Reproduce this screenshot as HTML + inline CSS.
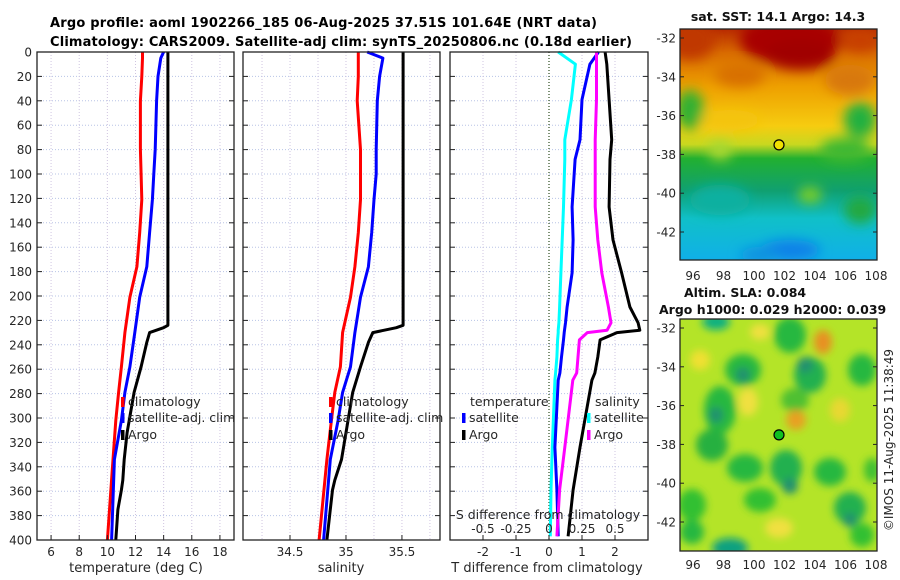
<!DOCTYPE html>
<html><head><meta charset="utf-8">
<style>
html,body{margin:0;padding:0;background:#fff;}
svg{display:block;font-family:"DejaVu Sans","Liberation Sans",sans-serif;}
</style></head>
<body>
<svg id="fig" width="900" height="580" viewBox="0 0 900 580" xmlns="http://www.w3.org/2000/svg">
<defs>
<filter id="blur1" x="-20%" y="-20%" width="140%" height="140%"><feGaussianBlur stdDeviation="6"/></filter>
<filter id="blur2" x="-20%" y="-20%" width="140%" height="140%"><feGaussianBlur stdDeviation="4"/></filter>
<clipPath id="clipM1"><rect x="680" y="29" width="197" height="231"/></clipPath>
<clipPath id="clipM2"><rect x="680" y="319" width="197" height="232"/></clipPath>
<linearGradient id="sstGrad" x1="0" y1="0" x2="0" y2="1">
<stop offset="0" stop-color="#b82a00"/><stop offset="0.1" stop-color="#d86a00"/>
<stop offset="0.25" stop-color="#eea000"/><stop offset="0.42" stop-color="#f6cc10"/>
<stop offset="0.5" stop-color="#c8d820"/><stop offset="0.56" stop-color="#22b030"/>
<stop offset="0.7" stop-color="#10a070"/><stop offset="0.82" stop-color="#10c0c8"/>
<stop offset="1" stop-color="#10b0e8"/></linearGradient>
</defs>
<text x="50" y="27" font-size="13" font-weight="bold" textLength="547">Argo profile: aoml 1902266_185 06-Aug-2025 37.51S 101.64E (NRT data)</text>
<text x="50" y="46" font-size="13" font-weight="bold" textLength="582">Climatology: CARS2009. Satellite-adj clim: synTS_20250806.nc (0.18d earlier)</text>
<g id="panels"></g>
<g id="maps"></g>
<text transform="translate(893,440) rotate(-90)" text-anchor="middle" font-size="12" fill="#262626">©IMOS 11-Aug-2025 11:38:49</text>
</svg>
<script>
// depth levels shared by profiles
const depthT = [0,5,20,40,80,100,121,148,176,201,230,258,279,302,334,400];
const tempClim = [12.5,12.5,12.45,12.35,12.35,12.4,12.45,12.3,12.1,11.6,11.25,11.0,10.8,10.6,10.4,10.0];
const tempSat = [14.0,13.8,13.6,13.5,13.4,13.3,13.2,13.0,12.8,12.3,11.95,11.6,11.25,11.0,10.5,10.3];
const depthArgo = [0,100,200,224,226,230,238,258,279,312,334,351,359,375,400];
const tempArgo = [14.3,14.3,14.3,14.3,14.0,13.0,12.8,12.4,11.9,11.4,11.2,11.1,11.0,10.75,10.6];
const salClim = [35.11,35.11,35.11,35.1,35.13,35.13,35.13,35.11,35.08,35.04,34.97,34.95,34.9,34.87,34.83,34.76];
const salSat = [35.19,35.33,35.3,35.28,35.27,35.27,35.25,35.23,35.2,35.13,35.08,35.04,34.97,34.93,34.86,34.8];
const salArgo = [35.51,35.51,35.51,35.51,35.45,35.24,35.2,35.13,35.06,35.0,34.96,34.9,34.88,34.86,34.83];
const depthD = [0,10,39,72,88,127,154,181,209,222,228,230,236,250,263,269,324,359,397];
const dTsat = [1.5,1.24,1.0,0.94,0.79,0.7,0.73,0.7,0.55,0.5,0.47,0.46,0.44,0.38,0.33,0.28,0.18,0.24,0.28];
const dTargo = [1.7,1.75,1.82,1.9,1.85,1.82,1.94,2.2,2.45,2.7,2.75,2.06,1.55,1.48,1.39,1.3,0.94,0.73,0.58];
const dSsat = [0.07,0.2,0.17,0.12,0.12,0.11,0.1,0.09,0.08,0.075,0.07,0.07,0.065,0.06,0.05,0.045,0.025,0.015,0.01];
const dSargo = [0.36,0.36,0.36,0.35,0.35,0.35,0.37,0.4,0.45,0.47,0.44,0.29,0.23,0.22,0.21,0.18,0.12,0.08,0.06];
const depthTicks = [0,20,40,60,80,100,120,140,160,180,200,220,240,260,280,300,320,340,360,380,400];
const tempTicks = [6,8,10,12,14,16,18];
const salTicks = [34.5,35,35.5];
const salGrid = [34.25,34.5,34.75,35,35.25,35.5,35.75];
const dTTicks = [-2,-1,0,1,2];
const dSTicks = [-0.5,-0.25,0,0.25,0.5];
const dSLabels = ['-0.5','-0.25','0','0.25','0.5'];

const NS='http://www.w3.org/2000/svg';
const Y0=52, Y1=540;
function yD(d){return Y0+(d/400)*(Y1-Y0);}
function mk(tag,attrs,parent){const e=document.createElementNS(NS,tag);for(const k in attrs)e.setAttribute(k,attrs[k]);parent.appendChild(e);return e;}
const root=document.getElementById('panels');

function panel(name,x0,x1,dmin,dmax,grid,showY){
  const g=mk('g',{},root);
  
  
  const sx=v=>x0+(v-dmin)/(dmax-dmin)*(x1-x0);
  depthTicks.forEach(d=>{ if(d>0&&d<400){const l=mk('line',{x1:x0,x2:x1,y1:yD(d),y2:yD(d),stroke:'#b8c4e6','stroke-width':1,'stroke-dasharray':'1,2'},g);
    
    }});
  grid.forEach(v=>{const l=mk('line',{x1:sx(v),x2:sx(v),y1:Y0,y2:Y1,stroke:'#cfc4e0','stroke-width':1,'stroke-dasharray':'1,2'},g);
    
    });
  depthTicks.forEach(d=>{
    mk('line',{x1:x0,x2:x0+5,y1:yD(d),y2:yD(d),stroke:'#222'},g);
    mk('line',{x1:x1-5,x2:x1,y1:yD(d),y2:yD(d),stroke:'#222'},g);
    if(showY){const t=mk('text',{x:x0-5,y:yD(d)+4.5,'text-anchor':'end','font-size':12,fill:'#262626'},g);t.textContent=d;
      
      }
  });
  return {g,sx};
}
function frame(g,x0,x1){const r=mk('rect',{x:x0,y:Y0,width:x1-x0,height:Y1-Y0,fill:'none',stroke:'#222','stroke-width':1.3},g);
  
  }
function line(g,sx,xs,ds,color,name){
  const p=mk('polyline',{points:xs.map((v,i)=>sx(v).toFixed(1)+','+yD(ds[i]).toFixed(1)).join(' '),fill:'none',stroke:color,'stroke-width':3,'stroke-linejoin':'round'},g);
  
  
}
function xtick(g,x,label,y){const t=mk('text',{x:x,y:y,'text-anchor':'middle','font-size':12,fill:'#262626'},g);t.textContent=label;
  
  }
function txt(g,x,y,s,name,opts){const t=mk('text',Object.assign({x:x,y:y,'font-size':12.5,fill:'#262626'},opts||{}),g);t.textContent=s;
  
  return t;}
function legItem(g,x,y,color,label,name){
  const r=mk('rect',{x:x,y:y-9,width:3.5,height:10,fill:color},g);
  
  
  txt(g,x+7,y,label,name);
}

// Panel 1 temperature
let P=panel('temperature-panel',37,234,5,19,tempTicks,true);
line(P.g,P.sx,tempClim,depthT,'#ff0000','temp-climatology-line');
line(P.g,P.sx,tempSat,depthT,'#0000ff','temp-satellite-line');
line(P.g,P.sx,tempArgo,depthArgo,'#000000','temp-argo-line');
tempTicks.forEach(v=>{mk('line',{x1:P.sx(v),x2:P.sx(v),y1:Y1,y2:Y1-5,stroke:'#222'},P.g);xtick(P.g,P.sx(v),v,556);});
frame(P.g,37,234);
legItem(P.g,121,406,'#ff0000','climatology','legend-climatology');
legItem(P.g,121,422,'#0000ff','satellite-adj. clim','legend-satellite-adj');
legItem(P.g,121,439,'#000000','Argo','legend-argo');
txt(P.g,136,572,'temperature (deg C)','x-axis-title-temperature',{'text-anchor':'middle','font-size':13});

// Panel 2 salinity
P=panel('salinity-panel',243,440,34.08,35.84,salGrid,false);
line(P.g,P.sx,salClim,depthT,'#ff0000','sal-climatology-line');
line(P.g,P.sx,salSat,depthT,'#0000ff','sal-satellite-line');
line(P.g,P.sx,salArgo,depthArgo,'#000000','sal-argo-line');
salTicks.forEach(v=>{mk('line',{x1:P.sx(v),x2:P.sx(v),y1:Y1,y2:Y1-5,stroke:'#222'},P.g);xtick(P.g,P.sx(v),v,556);});
frame(P.g,243,440);
legItem(P.g,329,406,'#ff0000','climatology','legend-climatology');
legItem(P.g,329,422,'#0000ff','satellite-adj. clim','legend-satellite-adj');
legItem(P.g,329,439,'#000000','Argo','legend-argo');
txt(P.g,341,572,'salinity','x-axis-title-salinity',{'text-anchor':'middle','font-size':13});

// Panel 3 differences
P=panel('difference-panel',450,648,-3,3,dTTicks,false);
const sxS=v=>450+(v+0.75)/1.5*198;
const z=mk('line',{x1:P.sx(0),x2:P.sx(0),y1:Y0,y2:Y1,stroke:'#2a4a1a','stroke-width':1.2,'stroke-dasharray':'1,2'},P.g);


line(P.g,sxS,dSsat,depthD,'#00ffff','sal-diff-satellite-line');
line(P.g,P.sx,dTsat,depthD,'#0000ff','temp-diff-satellite-line');
line(P.g,sxS,dSargo,depthD,'#ff00ff','sal-diff-argo-line');
line(P.g,P.sx,dTargo,depthD,'#000000','temp-diff-argo-line');
dTTicks.forEach(v=>{mk('line',{x1:P.sx(v),x2:P.sx(v),y1:Y1,y2:Y1-5,stroke:'#222'},P.g);xtick(P.g,P.sx(v),v,556);});
dSTicks.forEach((v,i)=>{xtick(P.g,sxS(v),dSLabels[i],533);});
frame(P.g,450,648);
txt(P.g,548,519,'S difference from climatology','s-axis-title',{'text-anchor':'middle'});
txt(P.g,470,406,'temperature','legend-title-temperature');
legItem(P.g,462,422,'#0000ff','satellite','legend-temp-satellite');
legItem(P.g,462,439,'#000000','Argo','legend-temp-argo');
txt(P.g,595,406,'salinity','legend-title-salinity');
legItem(P.g,587,422,'#00ffff','satellite','legend-sal-satellite');
legItem(P.g,587,439,'#ff00ff','Argo','legend-sal-argo');
txt(P.g,547,572,'T difference from climatology','x-axis-title-tdiff',{'text-anchor':'middle','font-size':13});

// Maps
const M=document.getElementById('maps');
const lonTicks=[96,98,100,102,104,106,108];
const latTicks=[-32,-34,-36,-38,-40,-42];
const mx=lon=>693+(lon-96)*15.25;
function mapAxes(g,top,latTop){
  const my=lat=>latTop+(-32-lat)*19.4;
  latTicks.forEach(l=>{
    mk('line',{x1:680,x2:684,y1:my(l),y2:my(l),stroke:'#222'},g);
    mk('line',{x1:873,x2:877,y1:my(l),y2:my(l),stroke:'#222'},g);
    const t=mk('text',{x:676,y:my(l)+4.5,'text-anchor':'end','font-size':12,fill:'#262626'},g);t.textContent=l;
    
    
  });
  return my;
}
// SST map
const g1=mk('g',{'clip-path':'url(#clipM1)'},M);


mk('rect',{x:680,y:29,width:197,height:231,fill:'url(#sstGrad)'},g1);
const bl=mk('g',{filter:'url(#blur1)'},g1);
[[790,40,50,25,'#a80000'],[800,55,35,15,'#a00000'],[690,40,25,20,'#c03800'],[860,40,20,12,'#c84000'],
 [740,75,25,12,'#d87000'],[850,80,25,15,'#d87810'],[690,110,14,20,'#30b030'],[860,120,16,18,'#20b040'],
 [730,120,30,10,'#f4c410'],[720,150,12,10,'#a8d830'],[845,150,25,12,'#40b830'],[810,195,12,8,'#80d020'],
 [860,210,16,14,'#20a840'],[720,200,30,15,'#10b0a0'],[790,250,30,10,'#1080e8'],[760,255,20,8,'#1090e0']
].forEach(b=>mk('ellipse',{cx:b[0],cy:b[1],rx:b[2],ry:b[3],fill:b[4]},bl));
mk('rect',{x:680,y:29,width:197,height:231,fill:'none',stroke:'#222','stroke-width':1.3},M);
const my1=mapAxes(M,29,38);
const mk1=mk('circle',{cx:mx(101.64),cy:my1(-37.51),r:5,fill:'#f0e000',stroke:'#000','stroke-width':1.2},M);


lonTicks.forEach(l=>{const t=mk('text',{x:mx(l),y:280,'text-anchor':'middle','font-size':12,fill:'#262626'},M);t.textContent=l;
  
  });
txt(M,778,21,'sat. SST: 14.1 Argo: 14.3','sst-map-title',{'text-anchor':'middle','font-weight':'bold','font-size':12.5,fill:'#111'});
txt(M,684,297,'Altim. SLA: 0.084','sla-title',{'font-weight':'bold','font-size':12.5,fill:'#111'});
txt(M,659,314,'Argo h1000: 0.029 h2000: 0.039','argo-height-title',{'font-weight':'bold','font-size':12.5,fill:'#111'});
// SLA map
const g2=mk('g',{'clip-path':'url(#clipM2)'},M);


mk('rect',{x:680,y:319,width:197,height:232,fill:'#b4e428'},g2);
const b2=mk('g',{filter:'url(#blur2)'},g2);
[[716,322,14,8,'#10b080'],[790,335,16,18,'#28b840'],[823,342,9,12,'#e89020'],[743,370,18,16,'#28b840'],
 [810,375,16,18,'#20b050'],[862,370,14,16,'#28b840'],[720,410,16,24,'#28b840'],[748,402,10,14,'#f0e040'],
 [795,400,14,12,'#50c030'],[796,420,10,10,'#e8a020'],[712,445,16,16,'#28b040'],[745,468,18,14,'#28b840'],
 [786,468,16,18,'#20b050'],[830,472,16,14,'#28b840'],[692,505,14,16,'#30c030'],[760,500,16,12,'#30c030'],
 [850,508,16,16,'#20b050'],[872,470,8,12,'#40c030'],[692,532,12,12,'#28b840'],[730,548,18,10,'#10a080'],
 [779,528,14,10,'#f0e040'],[862,535,12,12,'#30c030'],[700,360,10,10,'#f0e030'],[760,332,10,8,'#f0e040'],[840,410,10,12,'#e8d830'],
 [805,365,8,8,'#209070'],[743,375,7,8,'#209070'],[790,486,8,8,'#209070'],[850,520,7,7,'#209070'],[716,415,7,8,'#209070']
].forEach(b=>mk('ellipse',{cx:b[0],cy:b[1],rx:b[2],ry:b[3],fill:b[4]},b2));
mk('rect',{x:680,y:319,width:197,height:232,fill:'none',stroke:'#222','stroke-width':1.3},M);
const my2=mapAxes(M,319,328);
const mk2=mk('circle',{cx:mx(101.64),cy:my2(-37.51),r:5,fill:'#10c020',stroke:'#000','stroke-width':1.2},M);


lonTicks.forEach(l=>{const t=mk('text',{x:mx(l),y:569,'text-anchor':'middle','font-size':12,fill:'#262626'},M);t.textContent=l;
  
  });
</script>
</body></html>
